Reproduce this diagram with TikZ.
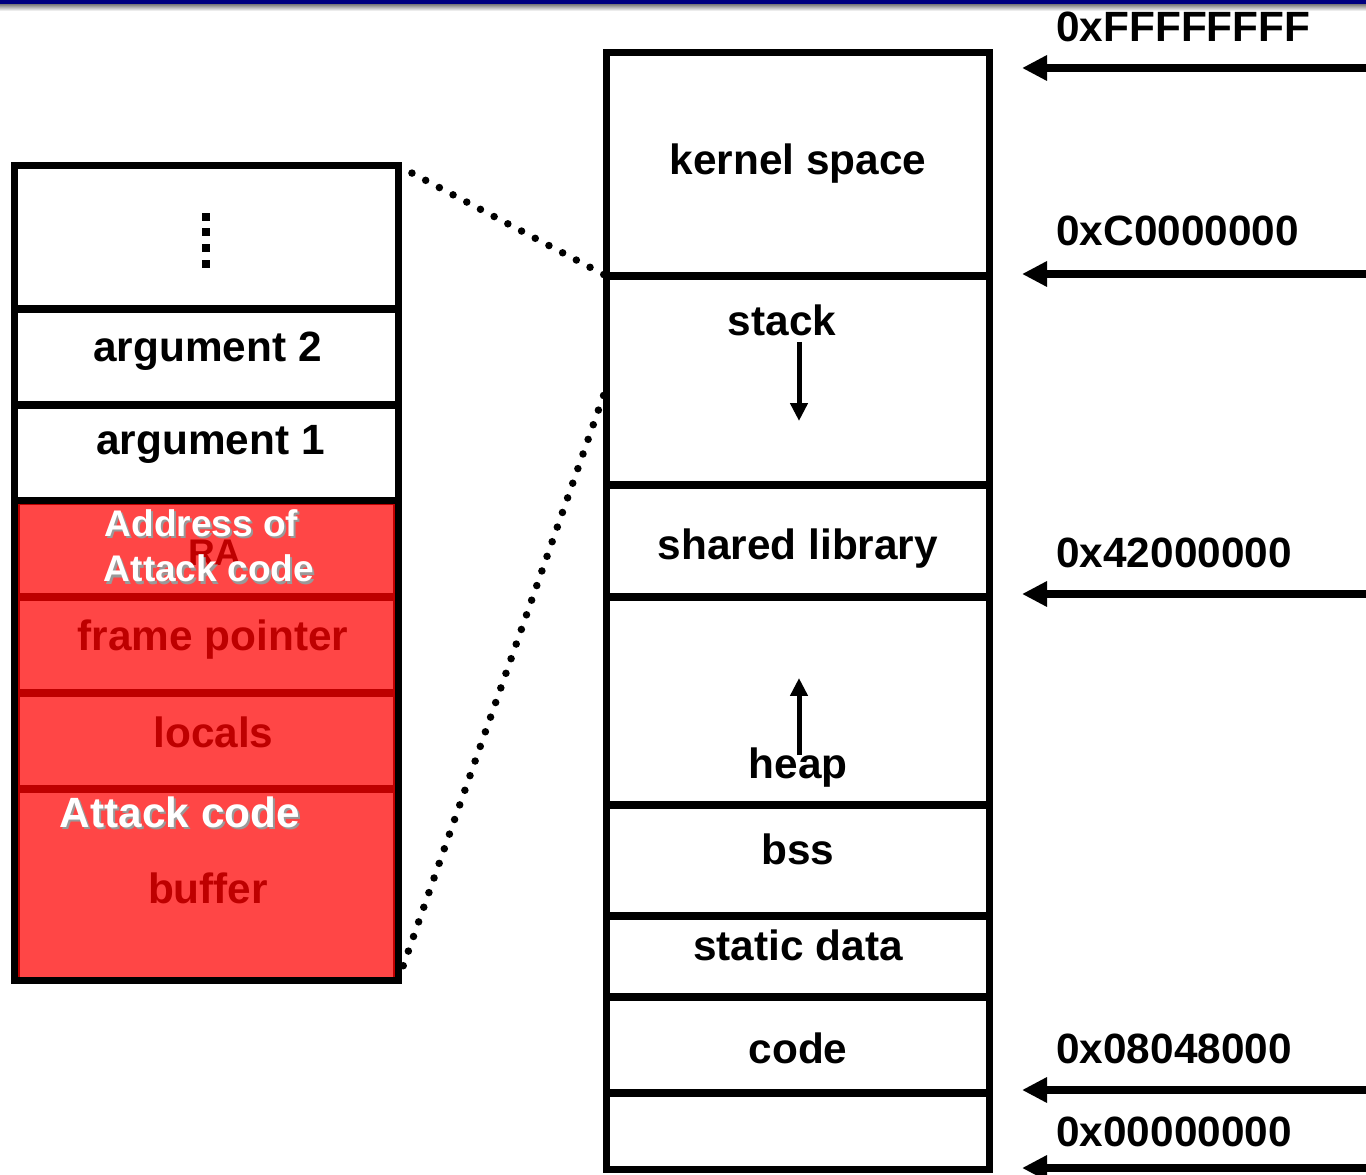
\documentclass[tikz,border=0pt]{standalone}
\usepackage{fontspec}
\setmainfont{Liberation Sans}
\usetikzlibrary{arrows.meta}
\definecolor{navybar}{RGB}{0,0,128}
\definecolor{stackred}{RGB}{255,70,70}
\definecolor{darkred}{RGB}{190,0,0}
\begin{document}
\begin{tikzpicture}[x=0.02cm,y=-0.02cm,
  lbl/.style={font=\fontsize{24.1}{28}\selectfont\bfseries, inner sep=0pt, anchor=base},
  smalllbl/.style={font=\fontsize{21.1}{25}\selectfont\bfseries, inner sep=0pt, anchor=base},
  addrlbl/.style={lbl, anchor=base west},
  redlbl/.style={text=darkred},
  whitelbl/.style={text=white},
  shadowlbl/.style={text=black!40},
  memseg/.style={draw=black, line width=0.14cm, minimum width=7.66cm, inner sep=0pt, outer sep=0pt},
  frameseg/.style={draw=black, line width=0.14cm, minimum width=7.69cm, inner sep=0pt, outer sep=0pt},
  redseg/.style={fill=stackred, draw=darkred, line width=0.14cm, minimum width=7.6cm, inner sep=0pt, outer sep=0pt},
  dotline/.style={line width=0.15cm, line cap=round, dash pattern=on 0pt off 0.31cm},
  addrarrow/.style={line width=0.15cm, -{Triangle[length=0.5cm,width=0.48cm]}},
  growarrow/.style={line width=0.1cm, -{Triangle[length=0.36cm,width=0.34cm]}},
  vdot/.style={fill=black, inner sep=0pt, minimum size=0.16cm}
]
\useasboundingbox (0,0) rectangle (1366,1175);

% title bar at the top edge
\fill[navybar] (0,0) rectangle (1366,5);
\shade[top color=black!45, bottom color=white] (0,5) rectangle (1366,11);

% ---------- process address space ----------
\node[memseg, minimum height=4.48cm] (kernel) at (798,164) {};
\node[memseg, minimum height=4.18cm] (stack)  at (798,380.5) {};
\node[memseg, minimum height=2.24cm] (shlib)  at (798,541) {};
\node[memseg, minimum height=4.16cm] (heap)   at (798,701) {};
\node[memseg, minimum height=2.22cm] (bss)    at (798,860.5) {};
\node[memseg, minimum height=1.62cm] (sdata)  at (798,956.5) {};
\node[memseg, minimum height=1.92cm] (code)   at (798,1045) {};
\node[memseg, minimum height=1.54cm] (low)    at (798,1131.5) {};

\node[lbl] (tkernel) at (798,175) {kernel space};
\node[lbl] (tstack)  at (782,336) {stack};
\node[lbl] (tshlib)  at (798,560) {shared library};
\node[lbl] (theap)   at (798,778) {heap};
\node[lbl] (tbss)    at (798,864) {bss};
\node[lbl] (tsdata)  at (798,960) {static data};
\node[lbl] (tcode)   at (798,1063) {code};

% growth directions
\coordinate (sgA) at (799,342);
\coordinate (sgB) at (799,421);
\coordinate (hgA) at (799,755);
\coordinate (hgB) at (799,678);
\draw[growarrow] (sgA) -- (sgB);
\draw[growarrow] (hgA) -- (hgB);

% ---------- address markers ----------
\coordinate (r1) at (1366,68);   \coordinate (p1) at (1022,68);
\coordinate (r2) at (1366,274);  \coordinate (p2) at (1022,274);
\coordinate (r3) at (1366,594);  \coordinate (p3) at (1022,594);
\coordinate (r4) at (1366,1090); \coordinate (p4) at (1022,1090);
\coordinate (r5) at (1366,1168); \coordinate (p5) at (1022,1168);
\foreach \i in {1,...,5} { \draw[addrarrow] (r\i) -- (p\i); }

\node[addrlbl] (a1) at (1056,42)   {0xFFFFFFFF};
\node[addrlbl] (a2) at (1056,246)  {0xC0000000};
\node[addrlbl] (a3) at (1056,568)  {0x42000000};
\node[addrlbl] (a4) at (1056,1063) {0x08048000};
\node[addrlbl] (a5) at (1056,1146) {0x00000000};

% ---------- stack frame ----------
\node[redseg, minimum height=1.92cm] (ra)     at (206.25,549) {};
\node[redseg, minimum height=1.92cm] (fp)     at (206.25,645) {};
\node[redseg, minimum height=1.92cm] (locals) at (206.25,741) {};
\node[redseg, minimum height=3.84cm] (buffer) at (206.25,885) {};

\node[frameseg, minimum height=2.87cm] (more) at (206.25,237.25) {};
\node[frameseg, minimum height=1.92cm] (arg2) at (206.25,357) {};
\node[frameseg, minimum height=1.92cm] (arg1) at (206.25,453) {};
\node[frameseg, minimum height=16.31cm] (frame) at (206.25,573.25) {};

% vertical ellipsis
\node[vdot] (d1) at (205.5,217) {};
\node[vdot] (d2) at (205.5,232.5) {};
\node[vdot] (d3) at (205.5,248) {};
\node[vdot] (d4) at (205.5,264.5) {};

\node[lbl] (targ2) at (207.5,362) {argument 2};
\node[lbl] (targ1) at (210.5,455) {argument 1};

\node[smalllbl, redlbl] (tra) at (215,565) {RA};
\node[lbl, redlbl] (tfp) at (213,650) {frame pointer};
\node[lbl, redlbl] (tlocals) at (213.5,747) {locals};
\node[lbl, redlbl] (tbuffer) at (208,903) {buffer};

% injected payload labels, with a soft drop shadow
\node[smalllbl, shadowlbl] (sh1) at (203.5,539) {Address of};
\node[smalllbl, shadowlbl] (sh2) at (211,584) {Attack code};
\node[lbl, shadowlbl] (sh3) at (182,829) {Attack code};
\node[smalllbl, whitelbl] (taddr) at (201.5,537) {Address of};
\node[smalllbl, whitelbl] (tatk1) at (209,582) {Attack code};
\node[lbl, whitelbl] (tatk2) at (180,827) {Attack code};

% ---------- zoom guides from the frame to the stack region ----------
\draw[dotline] ([shift={(13.5,7.5)}]frame.north east) -- (stack.north west);
\draw[dotline] ([shift={(-3,15)}]stack.west) -- ([shift={(4,-13)}]frame.south east);
\end{tikzpicture}
\end{document}
